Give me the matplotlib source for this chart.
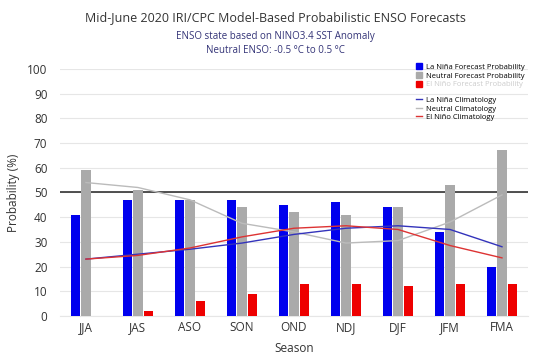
import numpy as np
import matplotlib.pyplot as plt
from matplotlib.lines import Line2D
from matplotlib.patches import Patch

plt.rcParams["font.family"] = ["Open Sans", "DejaVu Sans"]

seasons = ["JJA", "JAS", "ASO", "SON", "OND", "NDJ", "DJF", "JFM", "FMA"]
la_nina = [41, 47, 47, 47, 45, 46, 44, 34, 20]
neutral = [59, 51, 47, 44, 42, 41, 44, 53, 67]
el_nino = [0, 2, 6, 9, 13, 13, 12, 13, 13]

clim_la_nina = [23, 25, 27, 29.5, 33, 35.5, 36.5, 35, 28]
clim_neutral = [54, 52, 47, 37.5, 34, 29.5, 30.5, 38, 49]
clim_el_nino = [23, 24.5, 27.5, 32, 35.5, 36.5, 35, 28.5, 23.5]

blue = "#0000ee"
grey = "#aaaaaa"
red = "#ee0000"

fig = plt.figure(figsize=(5.5, 3.59), dpi=100)
ax = fig.add_axes([0.109, 0.12, 0.851, 0.688])

x = np.arange(len(seasons))
w = 0.18
ax.bar(x - 0.2, la_nina, w, color=blue, zorder=3)
ax.bar(x, neutral, w, color=grey, zorder=3)
ax.bar(x + 0.2, el_nino, w, color=red, zorder=3)

ax.plot(x, clim_neutral, color="#bbbbbb", lw=1, zorder=4)
ax.plot(x, clim_la_nina, color="#3333bb", lw=1, zorder=4)
ax.plot(x, clim_el_nino, color="#dd3333", lw=1, zorder=4)

ax.axhline(50, color="#333333", lw=1.2, zorder=2)

ax.set_xlim(-0.5, len(seasons) - 0.5)
ax.set_ylim(0, 100)
ax.set_yticks(range(0, 101, 10))
ax.set_xticks(x)
ax.set_xticklabels(seasons)
ax.yaxis.grid(True, color="#e6e6e6", lw=0.8, zorder=0)
for s in ax.spines.values():
    s.set_visible(False)
ax.spines["bottom"].set_visible(True)
ax.spines["bottom"].set_color("#e6e6e6")
ax.tick_params(length=0, labelsize=8.5, colors="#333333")
ax.tick_params(axis="y", pad=9)
ax.set_ylabel("Probability (%)", fontsize=8.5, color="#333333", labelpad=5)
ax.set_xlabel("Season", fontsize=8.5, color="#333333", labelpad=6)

fig.text(0.5, 0.95, "Mid-June 2020 IRI/CPC Model-Based Probabilistic ENSO Forecasts",
         ha="center", va="center", fontsize=9, color="#333333")
fig.text(0.5, 0.898, "ENSO state based on NINO3.4 SST Anomaly",
         ha="center", va="center", fontsize=7, color="#333377")
fig.text(0.5, 0.86, "Neutral ENSO: -0.5 \u00b0C to 0.5 \u00b0C",
         ha="center", va="center", fontsize=7, color="#333377")

h1 = [Patch(color=blue), Patch(color=grey), Patch(color=red)]
l1 = ["La Niña Forecast Probability", "Neutral Forecast Probability", "El Niño Forecast Probability"]
leg1 = ax.legend(h1, l1, loc="upper left", bbox_to_anchor=(0.755, 1.035), frameon=False,
                 fontsize=5.5, handlelength=0.8, handleheight=0.8, handletextpad=0.5,
                 labelspacing=0.15, borderaxespad=0)
leg1.get_texts()[2].set_color("#cccccc")
ax.add_artist(leg1)

h2 = [Line2D([], [], color="#3333bb", lw=1), Line2D([], [], color="#bbbbbb", lw=1),
      Line2D([], [], color="#dd3333", lw=1)]
l2 = ["La Niña Climatology", "Neutral Climatology", "El Niño Climatology"]
ax.legend(h2, l2, loc="upper left", bbox_to_anchor=(0.755, 0.9), frameon=False,
          fontsize=5.5, handlelength=0.8, handletextpad=0.5, labelspacing=0.15,
          borderaxespad=0)

fig.savefig("out.png", dpi=100)
